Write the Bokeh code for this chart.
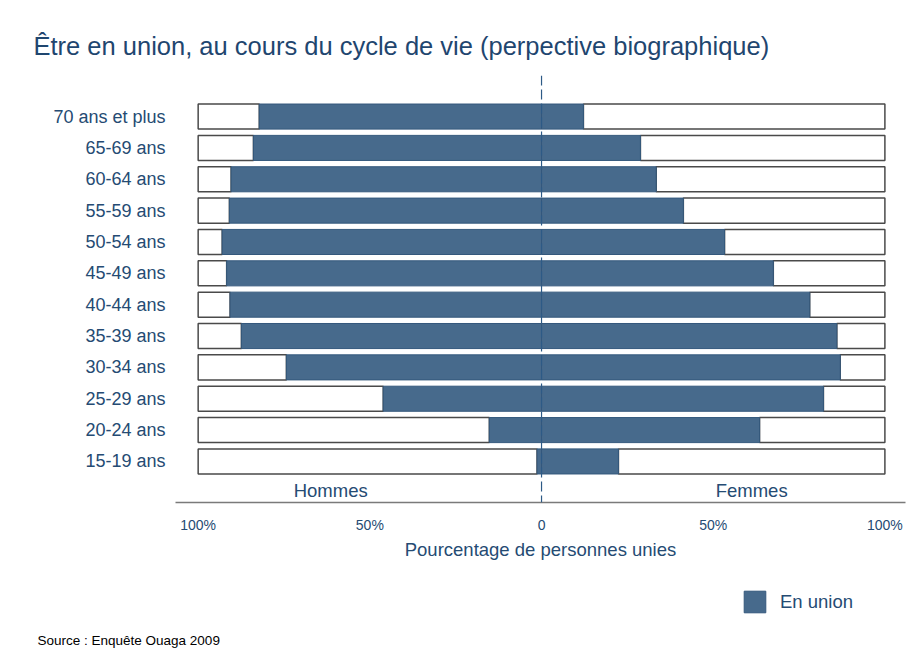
from bokeh.plotting import figure
from bokeh.models import (ColumnDataSource, Range1d, FixedTicker, Span, Label,
                          Legend, LegendItem)
from bokeh.layouts import column
from bokeh.embed import file_html
from bokeh.resources import INLINE

# ---- data ----
ages = ["15-19 ans", "20-24 ans", "25-29 ans", "30-34 ans", "35-39 ans",
        "40-44 ans", "45-49 ans", "50-54 ans", "55-59 ans", "60-64 ans",
        "65-69 ans", "70 ans et plus"]
hommes = [1.3, 15.2, 46.1, 74.3, 87.4, 90.7, 91.7, 93.0, 90.9, 90.4, 83.9, 82.2]
femmes = [22.4, 63.5, 82.1, 87.0, 86.0, 78.1, 67.5, 53.3, 41.3, 33.4, 28.8, 12.2]
x_ticks = [-100, -50, 0, 50, 100]
x_tick_labels = ["100%", "50%", "0", "50%", "100%"]
sexes = ["Hommes", "Femmes"]
legend_label = "En union"
title_text = "Être en union, au cours du cycle de vie (perpective biographique)"
source_text = "Source : Enquête Ouaga 2009"

TXT = "#254b73"
BLUE = "#476a8c"
FONT = "Liberation Sans"

idx = list(range(len(ages)))
src = ColumnDataSource(dict(
    y=idx,
    h_left=[-v for v in hommes],
    f_right=femmes,
    full_l=[-100] * len(ages),
    full_r=[100] * len(ages),
    zero=[0] * len(ages),
))

W = 913
p = figure(width=W, height=577, output_backend="svg", toolbar_location=None,
           x_range=Range1d(-106.6, 106.0), y_range=Range1d(-1.31, 12.31),
           min_border_left=175, min_border_right=8, min_border_top=75,
           min_border_bottom=75)
p.outline_line_color = None
p.xgrid.grid_line_color = None
p.ygrid.grid_line_color = None
p.background_fill_color = "white"
p.border_fill_color = "white"

p.title.text = title_text
p.title.align = "left"
p.title.offset = -142
p.title.standoff = 31
p.title.text_font = FONT
p.title.text_font_size = "25.5px"
p.title.text_font_style = "normal"
p.title.text_color = "#1f466f"

# white remainder boxes
p.hbar(y="y", left="full_l", right="h_left", height=0.8, source=src,
       fill_color="white", line_color="#4a4a4a", line_width=1.5)
p.hbar(y="y", left="f_right", right="full_r", height=0.8, source=src,
       fill_color="white", line_color="#4a4a4a", line_width=1.5)
# blue "en union" bars
p.hbar(y="y", left="h_left", right="zero", height=0.8, source=src,
       fill_color=BLUE, line_color="#34587c", line_width=1)
p.hbar(y="y", left="zero", right="f_right", height=0.8, source=src,
       fill_color=BLUE, line_color="#34587c", line_width=1)

# zero line
p.add_layout(Span(location=0, dimension="height", line_color="#2d5a86",
                  line_width=1.2, line_dash="10 4"))

# axes
xa = p.xaxis[0]
xa.ticker = FixedTicker(ticks=x_ticks)
xa.major_label_overrides = {t: l for t, l in zip(x_ticks, x_tick_labels)}
xa.major_tick_line_color = None
xa.minor_tick_line_color = None
xa.axis_line_color = "#7a7a7a"
xa.axis_line_width = 1.5
xa.major_label_text_color = TXT
xa.major_label_text_font = FONT
xa.major_label_text_font_size = "14px"
xa.major_label_standoff = 8
xa.axis_label = "Pourcentage de personnes unies"
xa.axis_label_text_font = FONT
xa.axis_label_text_font_size = "18.5px"
xa.axis_label_text_font_style = "normal"
xa.axis_label_text_color = TXT
xa.axis_label_standoff = 3

ya = p.yaxis[0]
ya.ticker = FixedTicker(ticks=idx)
ya.major_label_overrides = {i: a for i, a in zip(idx, ages)}
ya.major_tick_line_color = None
ya.minor_tick_line_color = None
ya.axis_line_color = None
ya.major_label_text_color = TXT
ya.major_label_text_font = FONT
ya.major_label_text_font_size = "18px"
ya.major_label_standoff = 4

# sex labels
for xpos, s in zip([-61.4, 61.2], sexes):
    p.add_layout(Label(x=xpos, y=-0.92, text=s, text_align="center",
                       text_baseline="middle", text_color=TXT,
                       text_font=FONT, text_font_size="18.5px"))

# ---- bottom strip: legend + source ----
H2 = 80
q = figure(width=W, height=H2, output_backend="svg", toolbar_location=None,
           x_range=Range1d(0, W), y_range=Range1d(0, H2),
           min_border=0, x_axis_type=None, y_axis_type=None)
q.frame_align = False
q.outline_line_color = None
q.xgrid.grid_line_color = None
q.ygrid.grid_line_color = None
# legend proxy (kept outside the visible range, only its swatch is shown)
r_leg = q.hbar(y=[-1000], left=[0], right=[1], height=1, fill_color=BLUE,
               line_color="#34587c", line_width=1)
legend = Legend(items=[LegendItem(label=legend_label, renderers=[r_leg])],
                location=(741, 42), glyph_width=27, glyph_height=27,
                padding=0, margin=0, spacing=0, label_standoff=12,
                border_line_color=None, background_fill_alpha=0,
                label_text_font=FONT, label_text_font_size="18.5px",
                label_text_color=TXT)
q.add_layout(legend, "center")
q.add_layout(Label(x=37, y=17, text=source_text, text_color="black",
                   text_font=FONT, text_font_size="13.5px",
                   text_baseline="middle"))

lay = column(p, q, spacing=0)
open("out.html", "w").write(file_html(lay, INLINE))
